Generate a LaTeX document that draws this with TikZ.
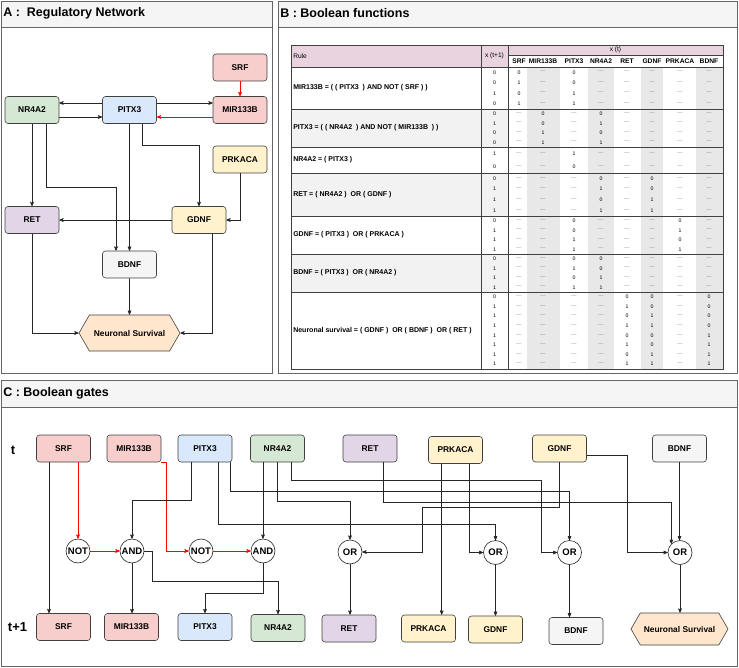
\documentclass[tikz,border=0pt]{standalone}
\usepackage{fontspec}
\setmainfont{Liberation Sans}
\usetikzlibrary{arrows,shapes}

\definecolor{rosa}{HTML}{F8CECC}
\definecolor{azzurro}{HTML}{DAE8FC}
\definecolor{verde}{HTML}{D5E8D4}
\definecolor{viola}{HTML}{E1D5E7}
\definecolor{giallo}{HTML}{FFF2CC}
\definecolor{grigio}{HTML}{F5F5F5}
\definecolor{arancio}{HTML}{FFE6CC}
\definecolor{rosatab}{HTML}{E8D3DF}

\newcommand{\nd}{\textcolor{black!45}{---}}
% una riga della tabella: nome, y, x(t+1), valori x(t)
\newcommand{\riga}[4]{%
  \node[valore] (#1-0) at (494.5,#2) {#3};
  \foreach \v [count=\k] in {#4}{
    \pgfmathsetmacro{\xx}{{519,543,574,601,627,652,680,709}[\k-1]}
    \node[valore] (#1-\k) at (\xx,#2) {\v};
  }
}

\begin{document}
\begin{tikzpicture}[x=1pt, y=-1pt, >=stealth', semithick]

%====Stili=====================================================================

	\tikzstyle{gene}=[draw=black!75, rounded corners=3pt, minimum width=54pt, minimum height=27pt, inner sep=1pt, font=\fontsize{8.4}{10}\selectfont\bfseries]
	\tikzstyle{esito}=[gene, sharp corners, shape=signal, signal to=west and east, signal pointer angle=120, fill=arancio]
	\tikzstyle{porta}=[circle, draw=black!85, fill=white, minimum size=24pt, inner sep=0pt, font=\fontsize{9.5}{10}\selectfont\bfseries]
	\tikzstyle{freccia}=[->, black!85]
	\tikzstyle{inibizione}=[->, red]
	\tikzstyle{cornice}=[draw=black!60, line width=0.9pt]
	\tikzstyle{titolo}=[anchor=west, inner sep=0pt, font=\fontsize{12.5}{14}\selectfont\bfseries]
	\tikzstyle{regola}=[anchor=west, inner sep=0pt, font=\fontsize{7}{8}\selectfont\bfseries]
	\tikzstyle{intest}=[inner sep=0pt, font=\fontsize{6.6}{8}\selectfont]
	\tikzstyle{colonna}=[inner sep=0pt, font=\fontsize{6.7}{7}\selectfont\bfseries]
	\tikzstyle{valore}=[inner sep=0pt, font=\fontsize{5.2}{6}\selectfont]
	\tikzstyle{tempo}=[inner sep=0pt, font=\fontsize{13}{14}\selectfont\bfseries]

	\useasboundingbox (0,0) rectangle (739,668);

%====Cornici dei pannelli======================================================

	\fill[grigio] (1.5,1.5) rectangle (272,27);
	\draw[cornice] (1.5,27) -- (272,27);
	\draw[cornice] (1.5,1.5) rectangle (272,373.5);
	\node[titolo] (titA) at (3,13) {A :\ \ Regulatory Network};

	\fill[grigio] (278,1.5) rectangle (737.5,27);
	\draw[cornice] (278,27) -- (737.5,27);
	\draw[cornice] (278,1.5) rectangle (737.5,373.5);
	\node[titolo] (titB) at (280,13) {B : Boolean functions};

	\fill[grigio] (1.5,380) rectangle (737.5,407);
	\draw[cornice] (1.5,407) -- (737.5,407);
	\draw[cornice] (1.5,380) rectangle (737.5,666.5);
	\node[titolo] (titC) at (3,393.5) {C : Boolean gates};

%====Pannello A: nodi==========================================================

	\node[gene, fill=rosa]    (srfA)  at (240,67.5)  {SRF};
	\node[gene, fill=rosa]    (mirA)  at (240,110)   {MIR133B};
	\node[gene, fill=azzurro] (pitA)  at (129.5,110) {PITX3};
	\node[gene, fill=verde]   (nrA)   at (32,110)    {NR4A2};
	\node[gene, fill=giallo]  (prkA)  at (240,159.5) {PRKACA};
	\node[gene, fill=viola]   (retA)  at (32,220)    {RET};
	\node[gene, fill=giallo]  (gdnfA) at (199,220)   {GDNF};
	\node[gene, fill=grigio]  (bdnfA) at (129.5,264.5) {BDNF};
	\node[esito, minimum width=101pt, minimum height=36pt] (nsA) at (129.5,333) {Neuronal Survival};

%====Pannello A: collegamenti==================================================

	\draw[freccia]    ([yshift=7pt]pitA.west) -- ([yshift=7pt]nrA.east);
	\draw[freccia]    ([yshift=-7pt]nrA.east) -- ([yshift=-7pt]pitA.west);
	\draw[freccia]    ([yshift=7pt]pitA.east) -- ([yshift=7pt]mirA.west);
	\draw[inibizione] ([yshift=-7pt]mirA.west) -- ([yshift=-7pt]pitA.east);
	\draw[inibizione] (srfA) -- (mirA);
	\draw[freccia]    (nrA) -- (retA);
	\draw[freccia]    ([xshift=14pt]nrA.south) -- ++(0,64) -| ([xshift=-13.5pt]bdnfA.north);
	\draw[freccia]    (pitA) -- (bdnfA);
	\draw[freccia]    ([xshift=12.5pt]pitA.south) -- ++(0,22) -| (gdnfA);
	\draw[freccia]    (prkA) |- (gdnfA);
	\draw[freccia]    (gdnfA) -- (retA);
	\draw[freccia]    (retA) |- (nsA);
	\draw[freccia]    ([xshift=13pt]gdnfA.south) |- (nsA);
	\draw[freccia]    (bdnfA) -- (nsA);

%====Pannello B: tabella=======================================================

	\fill[rosatab] (291,45) rectangle (508,67);
	\fill[rosatab] (508,45) rectangle (723,55);
	\foreach \ya/\yb in {109/147, 173/216, 254/292}
		\fill[black!5] (291,\ya) rectangle (508,\yb);
	\foreach \xa/\xb in {527/560, 588/614, 641/663, 696/723}
		\fill[black!9] (\xa,67) rectangle (\xb,369);

	\draw[black!75, line width=0.8pt] (291,45) rectangle (723,369);
	\foreach \yy in {67,109,147,173,216,254,292}
		\draw[black!75, line width=0.8pt] (291,\yy) -- (723,\yy);
	\draw[black!75, line width=0.8pt] (508,55) -- (723,55);
	\foreach \xx in {481,508}
		\draw[black!75, line width=0.8pt] (\xx,45) -- (\xx,369);

	\node[intest, anchor=west] (hRule) at (293,56) {Rule};
	\node[intest] (hNext) at (494.5,56) {x (t+1)};
	\node[intest] (hNow)  at (615.5,50) {x (t)};
	\foreach \nome/\xx in {SRF/519, MIR133B/543, PITX3/574, NR4A2/601, RET/627, GDNF/652, PRKACA/680, BDNF/709}
		\node[colonna] (c\nome) at (\xx,61) {\nome};

	\node[regola] (rMir)  at (293,88)    {MIR133B = ( ( PITX3\ \ ) AND NOT ( SRF ) )};
	\node[regola] (rPit)  at (293,128)   {PITX3 = ( ( NR4A2\ \ ) AND NOT ( MIR133B\ \ ) )};
	\node[regola] (rNr)   at (293,160)   {NR4A2 = ( PITX3 )};
	\node[regola] (rRet)  at (293,194.5) {RET = ( NR4A2 )\ \ OR ( GDNF )};
	\node[regola] (rGdnf) at (293,235)   {GDNF = ( PITX3 )\ \ OR ( PRKACA )};
	\node[regola] (rBdnf) at (293,273)   {BDNF = ( PITX3 )\ \ OR ( NR4A2 )};
	\node[regola] (rNs)   at (293,330.5) {Neuronal survival = ( GDNF )\ \ OR ( BDNF )\ \ OR ( RET )};

	%MIR133B
	\riga{m1}{72.25}{0}{0,\nd,0,\nd,\nd,\nd,\nd,\nd}
	\riga{m2}{82.75}{0}{1,\nd,0,\nd,\nd,\nd,\nd,\nd}
	\riga{m3}{93.25}{1}{0,\nd,1,\nd,\nd,\nd,\nd,\nd}
	\riga{m4}{103.75}{0}{1,\nd,1,\nd,\nd,\nd,\nd,\nd}
	%PITX3
	\riga{p1}{113.75}{0}{\nd,0,\nd,0,\nd,\nd,\nd,\nd}
	\riga{p2}{123.25}{1}{\nd,0,\nd,1,\nd,\nd,\nd,\nd}
	\riga{p3}{132.75}{0}{\nd,1,\nd,0,\nd,\nd,\nd,\nd}
	\riga{p4}{142.25}{0}{\nd,1,\nd,1,\nd,\nd,\nd,\nd}
	%NR4A2
	\riga{n1}{153.5}{1}{\nd,\nd,1,\nd,\nd,\nd,\nd,\nd}
	\riga{n2}{166.5}{0}{\nd,\nd,0,\nd,\nd,\nd,\nd,\nd}
	%RET
	\riga{r1}{178.4}{0}{\nd,\nd,\nd,0,\nd,0,\nd,\nd}
	\riga{r2}{189.1}{1}{\nd,\nd,\nd,1,\nd,0,\nd,\nd}
	\riga{r3}{199.9}{1}{\nd,\nd,\nd,0,\nd,1,\nd,\nd}
	\riga{r4}{210.6}{1}{\nd,\nd,\nd,1,\nd,1,\nd,\nd}
	%GDNF
	\riga{g1}{220.75}{0}{\nd,\nd,0,\nd,\nd,\nd,0,\nd}
	\riga{g2}{230.25}{1}{\nd,\nd,0,\nd,\nd,\nd,1,\nd}
	\riga{g3}{239.75}{1}{\nd,\nd,1,\nd,\nd,\nd,0,\nd}
	\riga{g4}{249.25}{1}{\nd,\nd,1,\nd,\nd,\nd,1,\nd}
	%BDNF
	\riga{b1}{258.75}{0}{\nd,\nd,0,0,\nd,\nd,\nd,\nd}
	\riga{b2}{268.25}{1}{\nd,\nd,1,0,\nd,\nd,\nd,\nd}
	\riga{b3}{277.75}{1}{\nd,\nd,0,1,\nd,\nd,\nd,\nd}
	\riga{b4}{287.25}{1}{\nd,\nd,1,1,\nd,\nd,\nd,\nd}
	%Neuronal survival
	\riga{s1}{296.8}{0}{\nd,\nd,\nd,\nd,0,0,\nd,0}
	\riga{s2}{306.4}{1}{\nd,\nd,\nd,\nd,1,0,\nd,0}
	\riga{s3}{316.1}{1}{\nd,\nd,\nd,\nd,0,1,\nd,0}
	\riga{s4}{325.7}{1}{\nd,\nd,\nd,\nd,1,1,\nd,0}
	\riga{s5}{335.3}{1}{\nd,\nd,\nd,\nd,0,0,\nd,1}
	\riga{s6}{345.0}{1}{\nd,\nd,\nd,\nd,1,0,\nd,1}
	\riga{s7}{354.6}{1}{\nd,\nd,\nd,\nd,0,1,\nd,1}
	\riga{s8}{364.2}{1}{\nd,\nd,\nd,\nd,1,1,\nd,1}

%====Pannello C: nodi al tempo t e t+1=========================================

	\node[tempo] (etT)  at (13,450)   {t};
	\node[tempo] (etT1) at (17.5,627) {t+1};

	\node[gene, fill=rosa]    (srfT)  at (63.5,448.5)  {SRF};
	\node[gene, fill=rosa]    (mirT)  at (134,448.5)   {MIR133B};
	\node[gene, fill=azzurro] (pitT)  at (205,448.5)   {PITX3};
	\node[gene, fill=verde]   (nrT)   at (277.5,448.5) {NR4A2};
	\node[gene, fill=viola]   (retT)  at (370,448.5)   {RET};
	\node[gene, fill=giallo]  (prkT)  at (455.5,450)   {PRKACA};
	\node[gene, fill=giallo]  (gdnfT) at (559.5,448.5) {GDNF};
	\node[gene, fill=grigio]  (bdnfT) at (679.5,448.5) {BDNF};

	\node[gene, fill=rosa]    (srfB)  at (63.5,627)    {SRF};
	\node[gene, fill=rosa]    (mirB)  at (131.5,627)   {MIR133B};
	\node[gene, fill=azzurro] (pitB)  at (205,627)     {PITX3};
	\node[gene, fill=verde]   (nrB)   at (278,628)     {NR4A2};
	\node[gene, fill=viola]   (retB)  at (349,628.5)   {RET};
	\node[gene, fill=giallo]  (prkB)  at (428.5,628.5) {PRKACA};
	\node[gene, fill=giallo]  (gdnfB) at (495.5,629.5) {GDNF};
	\node[gene, fill=grigio]  (bdnfB) at (576,631)     {BDNF};
	\node[esito, minimum width=97pt, minimum height=32pt] (nsB) at (679.5,629) {Neuronal Survival};

%====Pannello C: porte logiche=================================================

	\node[porta] (not1)   at (78,551)    {NOT};
	\node[porta] (and1)   at (132,551)   {AND};
	\node[porta] (not2)   at (201,551)   {NOT};
	\node[porta] (and2)   at (263,551)   {AND};
	\node[porta] (orRet)  at (350,552)   {OR};
	\node[porta] (orGdnf) at (495.5,552.5) {OR};
	\node[porta] (orBdnf) at (569.5,552.5) {OR};
	\node[porta] (orNs)   at (680,552.5) {OR};

%====Pannello C: collegamenti==================================================

	\draw[freccia]    ([xshift=-14.5pt]srfT.south) -- ([xshift=-14.5pt]srfB.north);
	\draw[inibizione] (srfT.south -| not1) -- (not1);
	\draw[inibizione] (not1) -- (and1);
	\draw[inibizione] (mirT.south east) -- ++(4.5,0) |- (not2);
	\draw[inibizione] (not2) -- (and2);

	\draw[freccia] ([xshift=-13.3pt]pitT.south) -- ++(0,38) -| (and1);
	\draw[freccia] ([xshift=13.3pt]pitT.south) -- ++(0,62) -| (orGdnf);
	\draw[freccia] ([xshift=-2pt]pitT.south east) -- ++(0,29) -| (orBdnf);

	\draw[freccia] (nrT.south -| and2) -- (and2);
	\draw[freccia] (nrT.south) -- ++(0,38.5) -| (orRet);
	\draw[freccia] ([xshift=14pt]nrT.south) -- ++(0,18) -| ([xshift=-16pt]orBdnf.west) -- (orBdnf);

	\draw[freccia] ([xshift=13.3pt]retT.south) -- ++(0,39.7) -| (orNs.135);

	\draw[freccia] ([xshift=-13.8pt]prkT.south) -- ([xshift=-13.8pt]prkT.south |- prkB.north);
	\draw[freccia] ([xshift=13.8pt]prkT.south) |- (orGdnf);

	\draw[freccia] (gdnfT.south) -- ++(0,44.5) -| ([xshift=60pt]orRet.east) -- (orRet);
	\draw[freccia] ([yshift=-6.5pt]gdnfT.east) -- ++(40,0) |- (orNs);

	\draw[freccia] (bdnfT.south) -- (bdnfT.south |- orNs.north);

	\draw[freccia] (and1.south) -- (and1.south |- mirB.north);
	\draw[freccia] (and1.east) -- ++(7.7,0) -- ++(0,30.7) -| (nrB.north);
	\draw[freccia] (and2.south) -- ++(0,30) -| (pitB.north);
	\draw[freccia] (orRet.south) -- (orRet.south |- retB.north);
	\draw[freccia] (orGdnf) -- (gdnfB);
	\draw[freccia] (orBdnf.south) -- (orBdnf.south |- bdnfB.north);
	\draw[freccia] (orNs.south) -- (orNs.south |- nsB.north);

\end{tikzpicture}
\end{document}
